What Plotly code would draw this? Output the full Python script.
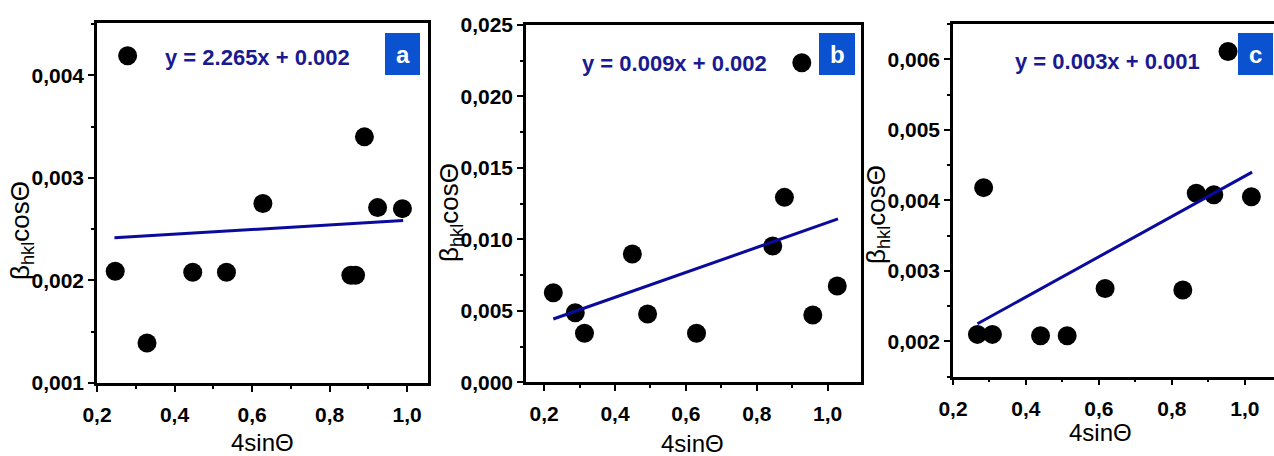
import plotly.graph_objects as go

W, H = 1274, 456

# ---------------- data ----------------
a_x = [0.247, 0.279, 0.329, 0.447, 0.534, 0.628, 0.855, 0.867, 0.890, 0.924, 0.988]
a_y = [0.00209, 0.00419, 0.00139, 0.00208, 0.00208, 0.00275, 0.00205, 0.00205, 0.00340, 0.00271, 0.00270]
a_fit_x = [0.245, 0.990]
a_fit_y = [0.002416, 0.002584]

b_x = [0.226, 0.288, 0.314, 0.449, 0.492, 0.630, 0.845, 0.878, 0.927, 0.958, 1.027]
b_y = [0.00627, 0.00487, 0.00343, 0.00898, 0.00478, 0.00343, 0.00954, 0.01294, 0.02236, 0.00471, 0.00674]
b_fit_x = [0.226, 1.029]
b_fit_y = [0.00443, 0.01143]

c_x = [0.267, 0.284, 0.308, 0.440, 0.513, 0.617, 0.830, 0.867, 0.915, 0.954, 1.018]
c_y = [0.00210, 0.00418, 0.00210, 0.00208, 0.00208, 0.00275, 0.00273, 0.00410, 0.00408, 0.00611, 0.00405]
c_fit_x = [0.267, 1.020]
c_fit_y = [0.00225, 0.00440]

equations = ["y = 2.265x + 0.002", "y = 0.009x + 0.002", "y = 0.003x + 0.001"]
panel_letters = ["a", "b", "c"]
x_title = "4sinΘ"
y_title = "β<sub>hkl</sub>cosΘ"

# ---------------- style ----------------
SANS = "Liberation Sans, Arial, sans-serif"
LINE_COL = "#0a0a9c"
EQ_COL = "#1a1a90"
BOX_COL = "#0a52d0"

def px(x):
    return x / W

def py(y):
    return 1 - y / H

fig = go.Figure()

panels = [
    (a_x, a_y, a_fit_x, a_fit_y, "x", "y"),
    (b_x, b_y, b_fit_x, b_fit_y, "x2", "y2"),
    (c_x, c_y, c_fit_x, c_fit_y, "x3", "y3"),
]
for xs, ys, fx, fy, xa, ya in panels:
    fig.add_trace(go.Scatter(x=xs, y=ys, mode="markers", xaxis=xa, yaxis=ya,
                             marker=dict(color="black", size=19, line=dict(width=0)),
                             showlegend=False))
    fig.add_trace(go.Scatter(x=fx, y=fy, mode="lines", xaxis=xa, yaxis=ya,
                             line=dict(color=LINE_COL, width=3), showlegend=False))

tickfont = dict(family=SANS, size=21, color="black", weight="bold")

def xaxis(domain, rng, anchor):
    return dict(domain=domain, range=rng, anchor=anchor, dtick=0.2, tick0=0.2,
                tickformat=".1f", ticks="outside", ticklen=6, tickwidth=2,
                tickcolor="black", showline=True, linewidth=2.5, linecolor="black",
                mirror=True, showgrid=False, zeroline=False, tickfont=tickfont,
                automargin=False, ticklabelstandoff=5,
                minor=dict(dtick=0.1, tick0=0.2, ticks="outside", ticklen=3,
                           tickwidth=1.5, tickcolor="black"))

def yaxis(domain, rng, anchor, dtick, tick0):
    return dict(domain=domain, range=rng, anchor=anchor, dtick=dtick, tick0=tick0,
                tickformat=".3f", ticks="outside", ticklen=6, tickwidth=2,
                tickcolor="black", showline=True, linewidth=2.5, linecolor="black",
                mirror=True, showgrid=False, zeroline=False, tickfont=tickfont,
                automargin=False,
                minor=dict(dtick=dtick / 2, tick0=tick0, ticks="outside", ticklen=3,
                           tickwidth=1.5, tickcolor="black"))

fig.update_layout(
    width=W, height=H,
    margin=dict(l=0, r=0, t=0, b=0, autoexpand=False),
    paper_bgcolor="white", plot_bgcolor="white",
    separators=",.",
    xaxis=xaxis([px(97), px(428)], [0.2, 1.054], "y"),
    yaxis=yaxis([py(383), py(23)], [0.001, 0.00451], "x", 0.001, 0.001),
    xaxis2=xaxis([px(526), px(861)], [0.149, 1.094], "y2"),
    yaxis2=yaxis([py(382.3), py(25)], [0.0, 0.025], "x2", 0.005, 0.0),
    xaxis3=xaxis([px(953), 1.0], [0.2, 1.08], "y3"),
    yaxis3=yaxis([py(376.7), py(24)], [0.0015, 0.0065], "x3", 0.001, 0.002),
)

annotations = []
shapes = []
eq_pos = [(257, 57), (674, 63), (1107, 62)]
box_pos = [(385, 420), (819, 855), (1238, 1273)]
ytitle_pos = [(22, 231), (451, 213), (877, 215)]
xtitle_pos = [(262, 442), (693, 443), (1100, 432)]
for i in range(3):
    ex, ey = eq_pos[i]
    annotations.append(dict(x=px(ex), y=py(ey), xref="paper", yref="paper",
                            text=equations[i], showarrow=False,
                            font=dict(family=SANS, size=22, color=EQ_COL, weight="bold"),
                            xanchor="center", yanchor="middle"))
    bx0, bx1 = box_pos[i]
    shapes.append(dict(type="rect", xref="paper", yref="paper",
                       x0=px(bx0), x1=px(bx1), y0=py(75), y1=py(33),
                       fillcolor=BOX_COL, line=dict(width=0)))
    annotations.append(dict(x=px((bx0 + bx1) / 2), y=py(54), xref="paper", yref="paper",
                            text=panel_letters[i], showarrow=False,
                            font=dict(family=SANS, size=24, color="white", weight="bold"),
                            xanchor="center", yanchor="middle"))
    tx, ty = ytitle_pos[i]
    annotations.append(dict(x=px(tx), y=py(ty), xref="paper", yref="paper",
                            text=y_title, showarrow=False, textangle=-90,
                            font=dict(family=SANS, size=26, color="black"),
                            xanchor="center", yanchor="middle"))
    xx, xy = xtitle_pos[i]
    annotations.append(dict(x=px(xx), y=py(xy), xref="paper", yref="paper",
                            text=x_title, showarrow=False,
                            font=dict(family=SANS, size=24, color="black"),
                            xanchor="center", yanchor="middle"))

fig.update_layout(annotations=annotations, shapes=shapes)
fig.write_html("out.html")
